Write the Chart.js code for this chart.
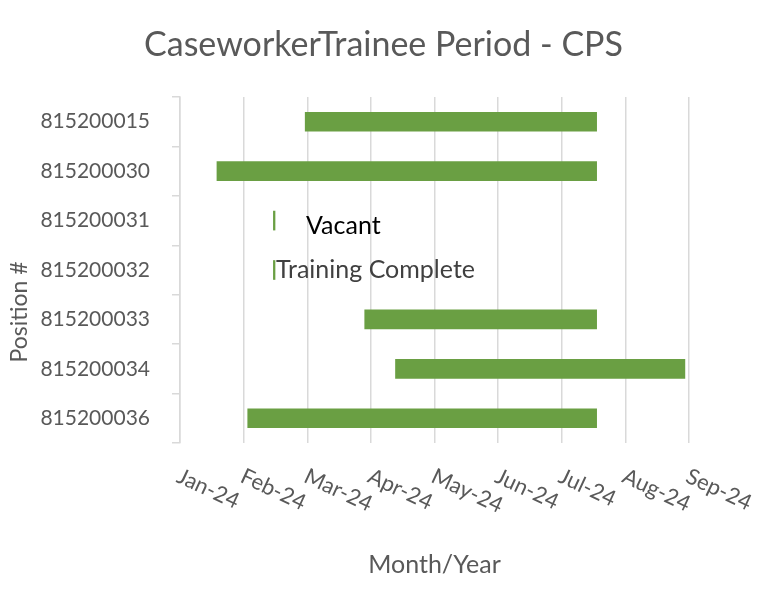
<!DOCTYPE html>
<html>
<head>
<meta charset="utf-8">
<script src="https://cdn.jsdelivr.net/npm/chart.js@4/dist/chart.umd.min.js"></script>
<style>
  html, body { margin: 0; padding: 0; background: #fff; }
  #wrap { width: 767px; height: 592px; }
</style>
</head>
<body>
<div id="wrap"><canvas id="gantt"></canvas></div>
<script>
// positions, top to bottom
const positions = ['815200015', '815200030', '815200031', '815200032', '815200033', '815200034', '815200036'];
// days since 1 Jan 2024
const startDays = [61, 18, 45.5, 45.5, 90, 105, 33];
const endDays   = [203, 203, 46.3, 46.3, 203, 246, 203];
const barNotes  = ['', '', 'Vacant', 'Training Complete', '', '', ''];
const tickLabels = ['Jan-24', 'Feb-24', 'Mar-24', 'Apr-24', 'May-24', 'Jun-24', 'Jul-24', 'Aug-24', 'Sep-24'];

const FONT = 'Lato, "Open Sans", sans-serif';
const GREY = '#595959';

// title over the whole canvas + the "Position #" axis title (Excel centres these differently)
const outerText = {
    id: 'outerText',
    afterDraw(chart) {
        const ctx = chart.ctx;
        ctx.save();
        ctx.fillStyle = GREY;
        ctx.textAlign = 'center';
        ctx.textBaseline = 'middle';
        ctx.font = '34px ' + FONT;
        ctx.fillText('CaseworkerTrainee Period - CPS', chart.width / 2, 45);

        ctx.font = '23px ' + FONT;
        ctx.translate(20, 312);
        ctx.rotate(-Math.PI / 2);
        ctx.fillText('Position #', 0, 0);
        ctx.restore();
    }
};

// slanted month labels (Excel style, reading downwards)
const slantTicks = {
    id: 'slantTicks',
    afterDraw(chart) {
        const sc = chart.scales.x, ctx = chart.ctx;
        ctx.save();
        ctx.font = '22px ' + FONT;
        ctx.fillStyle = GREY;
        ctx.textAlign = 'left';
        ctx.textBaseline = 'top';
        sc.ticks.forEach((t, i) => {
            const px = sc.getPixelForValue(t.value);
            ctx.save();
            ctx.translate(px + 3, chart.chartArea.bottom + 22);
            ctx.rotate(25 * Math.PI / 180);
            ctx.fillText(tickLabels[i] || '', 0, 0);
            ctx.restore();
        });
        ctx.restore();
    }
};

// text notes next to the tiny bars
const barText = {
    id: 'barText',
    afterDatasetsDraw(chart) {
        const ctx = chart.ctx;
        const meta = chart.getDatasetMeta(0);
        ctx.save();
        ctx.font = '25px ' + FONT;
        ctx.textBaseline = 'middle';
        meta.data.forEach((bar, i) => {
            if (!barNotes[i]) return;
            const end = Math.max(bar.x, bar.base);
            if (barNotes[i] === 'Vacant') {
                ctx.fillStyle = '#000000';
                ctx.fillText(barNotes[i], end + 31, bar.y + 5);
            } else {
                ctx.fillStyle = '#404040';
                ctx.fillText(barNotes[i], end + 1, bar.y);
            }
        });
        ctx.restore();
    }
};

new Chart(document.getElementById('gantt'), {
    type: 'bar',
    data: {
        labels: positions,
        datasets: [{
            label: 'Trainee period',
            data: positions.map((p, i) => [startDays[i], endDays[i]]),
            backgroundColor: '#6a9f43',
            borderWidth: 0,
            barThickness: 19,
        }]
    },
    options: {
        indexAxis: 'y',
        responsive: true,
        maintainAspectRatio: false,
        animation: false,
        layout: { padding: { left: 0, right: 78, top: 97, bottom: 0 } },
        plugins: {
            legend: { display: false },
            tooltip: { enabled: false },
            title: { display: false }
        },
        scales: {
            x: {
                min: 0,
                max: 248,
                ticks: { display: false, stepSize: 31 },
                grid: { color: '#d9d9d9', lineWidth: 1.5, drawTicks: false },
                border: { display: false },
                title: {
                    display: true,
                    text: 'Month/Year',
                    color: GREY,
                    font: { family: FONT, size: 25 },
                    padding: { top: 0, bottom: 12 }
                },
                afterFit: s => { s.height = 149; }
            },
            y: {
                ticks: { color: GREY, font: { family: FONT, size: 21 }, padding: 22 },
                grid: { offset: true, drawOnChartArea: false, drawTicks: true, tickLength: 8, color: '#d9d9d9', lineWidth: 1.5 },
                border: { color: '#d9d9d9', width: 1.5 },
                afterFit: s => { s.width = 180; }
            }
        }
    },
    plugins: [slantTicks, barText, outerText]
});
</script>
</body>
</html>
